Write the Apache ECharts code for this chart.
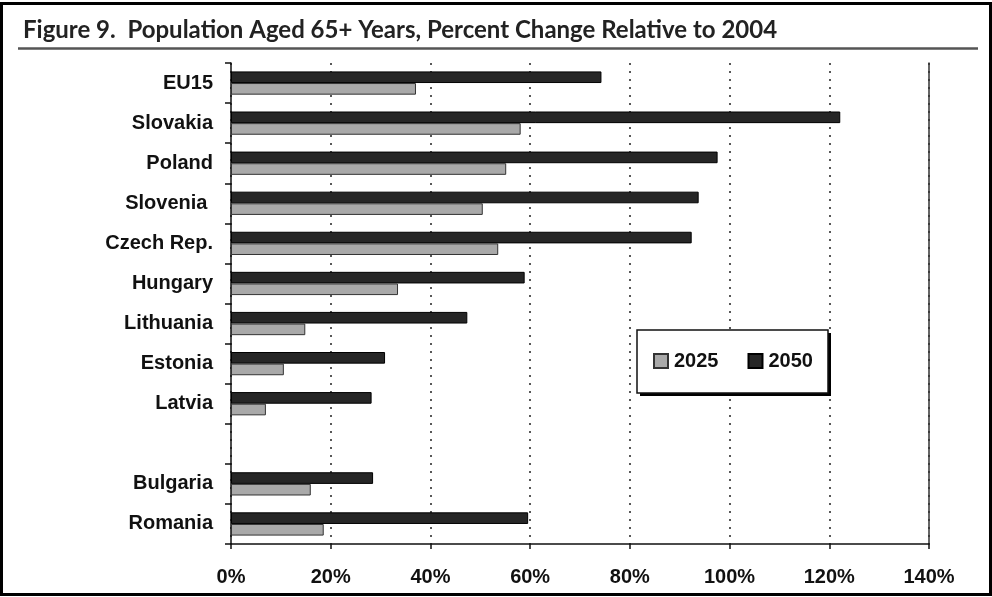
<!DOCTYPE html>
<html>
<head>
<meta charset="utf-8">
<script src="https://cdn.jsdelivr.net/npm/echarts@6/dist/echarts.min.js"></script>
<style>
  html, body { margin: 0; padding: 0; background: #fff; }
  #chart { width: 992px; height: 597px; }
</style>
</head>
<body>
<div id="chart"></div>
<script>
// Countries, top to bottom (blank row separates the two groups)
const categories = ['EU15', 'Slovakia', 'Poland', 'Slovenia ', 'Czech Rep.', 'Hungary',
  'Lithuania', 'Estonia', 'Latvia', '', 'Bulgaria', 'Romania'];
// Percent change of the 65+ population relative to 2004
const change2025 = [37.1, 58.1, 55.2, 50.5, 53.6, 33.5, 14.9, 10.6, 7.0, null, 16.0, 18.6];
const change2050 = [74.3, 122.2, 97.6, 93.8, 92.4, 58.9, 47.4, 30.9, 28.2, null, 28.5, 59.6];
const seriesNames = ['2025', '2050'];
const xTicks = { min: 0, max: 140, interval: 20 };

const labelFont = 'Liberation Sans, Arial, Helvetica, sans-serif';

// legend box geometry
const legendBox = { x: 637, y: 330, w: 191, h: 63 };

const chart = echarts.init(document.getElementById('chart'), null, { renderer: 'canvas' });

chart.setOption({
  animation: false,
  backgroundColor: '#fff',
  title: {
    text: 'Figure 9.  Population Aged 65+ Years, Percent Change Relative to 2004',
    left: 18,
    top: 13,
    textStyle: {
      fontFamily: 'Lato, sans-serif',
      fontWeight: 'bold',
      fontSize: 24,
      color: '#222'
    }
  },
  graphic: [
    { type: 'rect', shape: { x: 1.5, y: 3.5, width: 989, height: 591 },
      style: { fill: 'none', stroke: '#000', lineWidth: 3 }, silent: true, z: 100 },
    { type: 'line', shape: { x1: 18, y1: 48.5, x2: 978, y2: 48.5 },
      style: { stroke: '#555', lineWidth: 2.5 }, silent: true },
    // legend frame with a hard drop shadow
    { type: 'rect', z: 10,
      shape: { x: legendBox.x + 3, y: legendBox.y + 3, width: legendBox.w, height: legendBox.h },
      style: { fill: '#000' }, silent: true },
    { type: 'rect', z: 11,
      shape: { x: legendBox.x, y: legendBox.y, width: legendBox.w, height: legendBox.h },
      style: { fill: '#fff', stroke: '#111', lineWidth: 1.5 }, silent: true }
  ],
  legend: {
    data: seriesNames,
    left: legendBox.x,
    top: legendBox.y,
    z: 20,
    orient: 'horizontal',
    padding: [21, 16, 21, 16],
    itemWidth: 14,
    itemHeight: 14,
    itemGap: 29,
    icon: 'rect',
    textStyle: {
      fontFamily: labelFont,
      fontWeight: 'bold',
      fontSize: 20,
      color: '#111',
      padding: [0, 0, 0, 1]
    }
  },
  grid: { left: 231, right: 63, top: 63, bottom: 53, containLabel: false },
  xAxis: {
    type: 'value',
    min: xTicks.min,
    max: xTicks.max,
    interval: xTicks.interval,
    axisLine: { show: true, lineStyle: { color: '#111', width: 1.5 } },
    axisTick: { show: true, length: 5, lineStyle: { color: '#111', width: 1.5 } },
    axisLabel: {
      formatter: '{value}%',
      margin: 23,
      fontFamily: labelFont,
      fontWeight: 'bold',
      fontSize: 20,
      color: '#111'
    },
    splitLine: { show: true, lineStyle: { color: '#222', width: 1.5, type: [2, 6] } }
  },
  yAxis: [
    {
      type: 'category',
      data: categories,
      inverse: true,
      axisLine: { show: true, lineStyle: { color: '#111', width: 1.5 } },
      axisTick: { show: true, length: 6, lineStyle: { color: '#111', width: 1.5 } },
      axisLabel: {
        margin: 18,
        fontFamily: labelFont,
        fontWeight: 'bold',
        fontSize: 20,
        color: '#111'
      }
    },
    {
      type: 'category',
      data: categories,
      inverse: true,
      position: 'right',
      axisLine: { show: true, lineStyle: { color: '#333', width: 1.5 } },
      axisTick: { show: false },
      axisLabel: { show: false }
    }
  ],
  series: [
    {
      name: '2050',
      type: 'bar',
      data: change2050,
      barGap: '0%',
      barCategoryGap: '42%',
      itemStyle: { color: '#262626', borderColor: '#000', borderWidth: 1 }
    },
    {
      name: '2025',
      type: 'bar',
      data: change2025,
      barGap: '0%',
      barCategoryGap: '42%',
      itemStyle: { color: '#a9a9a9', borderColor: '#333', borderWidth: 1 }
    }
  ]
});
</script>
</body>
</html>
